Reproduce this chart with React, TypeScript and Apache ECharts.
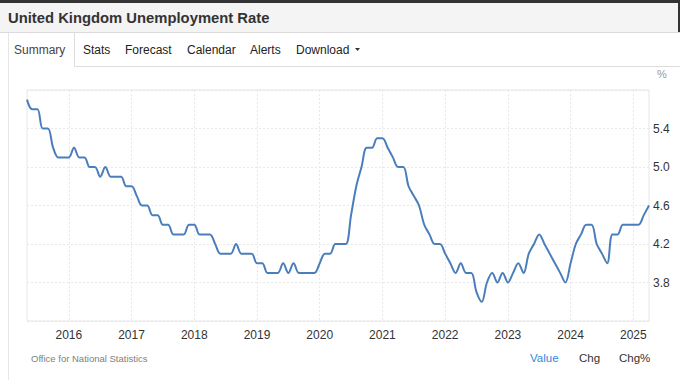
import React, { useEffect, useRef } from "react";
import * as echarts from "echarts";

// Monthly unemployment rate (%)
const values2015 = [5.7, 5.6, 5.6, 5.4, 5.4, 5.2, 5.1, 5.1]; // May–Dec
const values2016 = [5.1, 5.2, 5.1, 5.1, 5.0, 5.0, 4.9, 5.0, 4.9, 4.9, 4.9, 4.8];
const values2017 = [4.8, 4.7, 4.6, 4.6, 4.5, 4.5, 4.4, 4.4, 4.3, 4.3, 4.3, 4.4];
const values2018 = [4.4, 4.3, 4.3, 4.3, 4.2, 4.1, 4.1, 4.1, 4.2, 4.1, 4.1, 4.1];
const values2019 = [4.0, 4.0, 3.9, 3.9, 3.9, 4.0, 3.9, 4.0, 3.9, 3.9, 3.9, 3.9];
const values2020 = [4.0, 4.1, 4.1, 4.2, 4.2, 4.2, 4.5, 4.8, 5.0, 5.2, 5.2, 5.3];
const values2021 = [5.3, 5.2, 5.1, 5.0, 5.0, 4.8, 4.7, 4.6, 4.4, 4.3, 4.2, 4.2];
const values2022 = [4.1, 4.0, 3.9, 4.0, 3.9, 3.9, 3.7, 3.6, 3.8, 3.9, 3.8, 3.9];
const values2023 = [3.8, 3.9, 4.0, 3.9, 4.1, 4.2, 4.3, 4.2, 4.1, 4.0, 3.9, 3.8];
const values2024 = [4.0, 4.2, 4.3, 4.4, 4.4, 4.2, 4.1, 4.0, 4.3, 4.3, 4.4, 4.4];
const values2025 = [4.4, 4.4, 4.5, 4.6]; // Jan–Apr

const yearBlocks = [
  { year: 2015, firstMonth: 5, values: values2015 },
  { year: 2016, firstMonth: 1, values: values2016 },
  { year: 2017, firstMonth: 1, values: values2017 },
  { year: 2018, firstMonth: 1, values: values2018 },
  { year: 2019, firstMonth: 1, values: values2019 },
  { year: 2020, firstMonth: 1, values: values2020 },
  { year: 2021, firstMonth: 1, values: values2021 },
  { year: 2022, firstMonth: 1, values: values2022 },
  { year: 2023, firstMonth: 1, values: values2023 },
  { year: 2024, firstMonth: 1, values: values2024 },
  { year: 2025, firstMonth: 1, values: values2025 },
];

const yMin = 3.4;
const yMax = 5.8;
const yStep = 0.4;
const shownYLabels = ["3.8", "4.2", "4.6", "5.0", "5.4"];

const tabs = ["Summary", "Stats", "Forecast", "Calendar", "Alerts", "Download"];
const tabX = [14, 83, 125, 187, 250, 296];

const FONT = "Arial, 'Liberation Sans', sans-serif";

export default function App() {
  const ref = useRef<HTMLDivElement>(null);

  useEffect(() => {
    if (!ref.current) return;
    const chart = echarts.init(ref.current, null, { renderer: "svg" });

    const categories: string[] = [];
    const data: number[] = [];
    yearBlocks.forEach((b) => {
      b.values.forEach((v, i) => {
        const m = b.firstMonth + i;
        categories.push(`${b.year}-${m < 10 ? "0" + m : m}`);
        data.push(v);
      });
    });
    const isJan = (v: string) => v.endsWith("-01");

    const graphic: any[] = [
      // header
      { type: "rect", shape: { x: 0, y: 0, width: 680, height: 33 }, style: { fill: "#f4f4f4" }, z: -10 },
      { type: "rect", shape: { x: 0, y: 0, width: 680, height: 3 }, style: { fill: "#333" }, z: -9 },
      { type: "rect", shape: { x: 678, y: 0, width: 2, height: 32 }, style: { fill: "#333" }, z: -9 },
      { type: "line", shape: { x1: 0, y1: 32.5, x2: 680, y2: 32.5 }, style: { stroke: "#dcdcdc", lineWidth: 1 }, z: -9 },
      {
        type: "text",
        x: 8,
        y: 18,
        style: { text: "United Kingdom Unemployment Rate", font: `bold 14.8px ${FONT}`, fill: "#333", verticalAlign: "middle" },
      },
      // tab row
      { type: "line", shape: { x1: 75, y1: 66.5, x2: 680, y2: 66.5 }, style: { stroke: "#dddddd", lineWidth: 1 }, z: -9 },
      { type: "line", shape: { x1: 74.5, y1: 33, x2: 74.5, y2: 67 }, style: { stroke: "#dddddd", lineWidth: 1 }, z: -9 },
      { type: "line", shape: { x1: 8.5, y1: 33, x2: 8.5, y2: 380 }, style: { stroke: "#e6e6e6", lineWidth: 1 }, z: -9 },
      ...tabs.map((t, i) => ({
        type: "text",
        x: tabX[i],
        y: 50,
        style: { text: t, font: `12px ${FONT}`, fill: i === 0 ? "#444" : "#222", verticalAlign: "middle" },
      })),
      {
        type: "polygon",
        shape: { points: [[355, 48], [360, 48], [357.5, 51]] },
        style: { fill: "#333" },
      },
      // % unit
      {
        type: "text",
        x: 657,
        y: 74,
        style: { text: "%", font: `11px ${FONT}`, fill: "#999", verticalAlign: "middle" },
      },
      // footer
      {
        type: "text",
        x: 31,
        y: 358,
        style: { text: "Office for National Statistics", font: `9.5px ${FONT}`, fill: "#808080", verticalAlign: "middle" },
      },
      {
        type: "text",
        x: 530,
        y: 358,
        style: { text: "Value", font: `11.5px ${FONT}`, fill: "#2d8ae0", verticalAlign: "middle" },
      },
      {
        type: "text",
        x: 579,
        y: 358,
        style: { text: "Chg", font: `11.5px ${FONT}`, fill: "#333", verticalAlign: "middle" },
      },
      {
        type: "text",
        x: 619,
        y: 358,
        style: { text: "Chg%", font: `11.5px ${FONT}`, fill: "#333", verticalAlign: "middle" },
      },
    ];

    chart.setOption({
      animation: false,
      backgroundColor: "#fff",
      grid: {
        left: 27,
        right: 31,
        top: 90,
        bottom: 59,
        show: true,
        borderColor: "#e6e6e6",
        borderWidth: 1,
        backgroundColor: "transparent",
      },
      xAxis: {
        type: "category",
        data: categories,
        boundaryGap: false,
        axisLine: { show: false },
        axisTick: { show: false },
        axisLabel: {
          interval: (_i: number, v: string) => isJan(v),
          formatter: (v: string) => (isJan(v) ? v.slice(0, 4) : ""),
          color: "#333",
          fontSize: 12,
          fontFamily: FONT,
          margin: 8,
        },
        splitLine: {
          show: true,
          interval: (_i: number, v: string) => isJan(v),
          lineStyle: { color: "#e8e8e8", type: [2, 2], width: 1 },
        },
      },
      yAxis: {
        type: "value",
        position: "right",
        min: yMin,
        max: yMax,
        interval: yStep,
        axisLine: { show: false },
        axisTick: { show: false },
        axisLabel: {
          margin: 4,
          color: "#333",
          fontSize: 12,
          fontFamily: FONT,
          formatter: (v: number) => {
            const s = v.toFixed(1);
            return shownYLabels.includes(s) ? s : "";
          },
        },
        splitLine: { show: true, lineStyle: { color: "#e8e8e8", type: [2, 2], width: 1 } },
      },
      series: [
        {
          type: "line",
          data,
          smooth: 0.35,
          symbol: "none",
          lineStyle: { color: "#4a7ebb", width: 2 },
        },
      ],
      graphic,
    });

    return () => chart.dispose();
  }, []);

  return (
    <div
      ref={ref}
      style={{ position: "absolute", left: 0, top: 0, width: 680, height: 380, background: "#fff" }}
    />
  );
}
